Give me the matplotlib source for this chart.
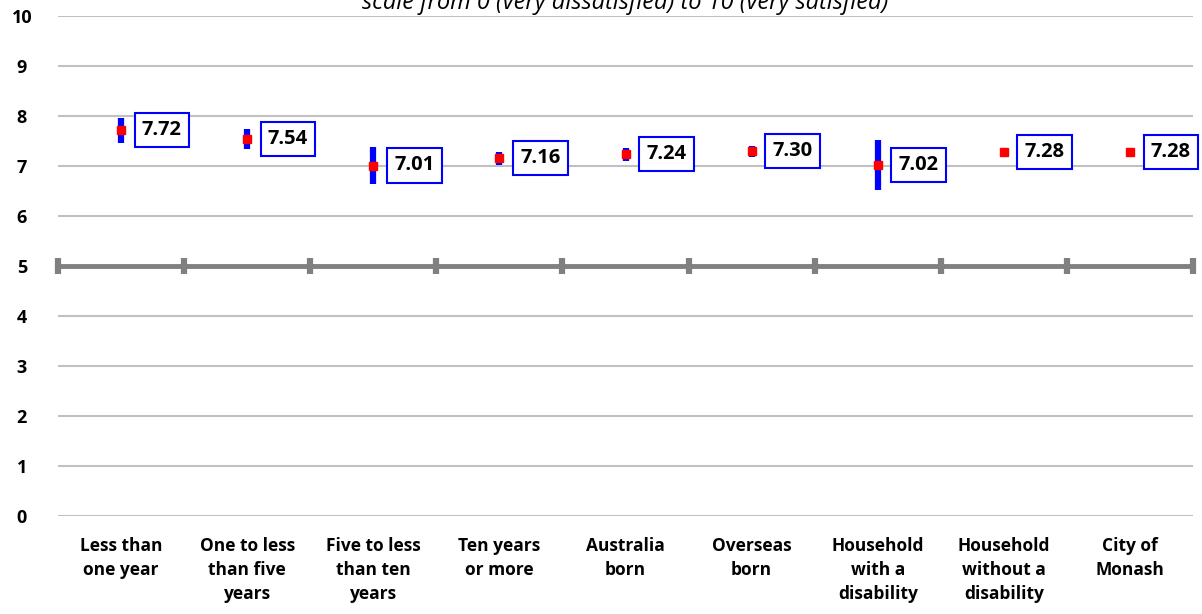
import numpy as np
import matplotlib.pyplot as plt

plt.rcParams['font.family'] = ['Open Sans', 'DejaVu Sans']

categories = ['Less than\none year', 'One to less\nthan five\nyears', 'Five to less\nthan ten\nyears',
              'Ten years\nor more', 'Australia\nborn', 'Overseas\nborn', 'Household\nwith a\ndisability',
              'Household\nwithout a\ndisability', 'City of\nMonash']
means = [7.72, 7.54, 7.01, 7.16, 7.24, 7.30, 7.02, 7.28, 7.28]
errors = [0.25, 0.20, 0.37, 0.13, 0.13, 0.11, 0.50, 0.05, 0.05]
labels = ['7.72', '7.54', '7.01', '7.16', '7.24', '7.30', '7.02', '7.28', '7.28']

fig = plt.figure(figsize=(12.02, 6.14), dpi=100)
ax = fig.add_axes([58/1202, 1-516/614, (1193-58)/1202, 500/614])

x = np.arange(len(categories))

# grid
for yv in range(0, 11):
    if yv == 5:
        continue
    ax.axhline(yv, color='#c0c0c0', lw=1.5, zorder=1)
ax.axhline(5, color='#808080', lw=3.5, zorder=2)
bounds = np.arange(len(categories) + 1) - 0.5
ax.plot(bounds, [5] * len(bounds), ls='none', marker='|', ms=12, mew=4.5, color='#808080',
        zorder=2, clip_on=False)

# error bars + means
ax.errorbar(x, means, yerr=errors, fmt='none', ecolor='#0000ff', elinewidth=4.5, capsize=0, zorder=3)
ax.plot(x, means, ls='none', marker='s', ms=6, color='#ff0000', zorder=4)

for xi, m, lab in zip(x, means, labels):
    ax.annotate(lab, (xi, m), xytext=(15, 0), textcoords='offset points', ha='left', va='center',
                fontsize=14.5, fontweight='bold',
                bbox=dict(boxstyle='square,pad=0.36', fc='white', ec='#0000ff', lw=1.5), zorder=5)

ax.set_xlim(-0.5, len(categories) - 0.5)
ax.set_ylim(0, 10)
ax.set_yticks(range(0, 11))
ax.set_yticklabels([str(v) for v in range(0, 11)], fontsize=13, fontweight='bold')
ax.set_xticks(x)
ax.set_xticklabels(categories, fontsize=12.5, fontweight='bold', va='top', linespacing=1.45)
ax.tick_params(axis='both', length=0)
ax.tick_params(axis='x', pad=15)
ax.tick_params(axis='y', pad=26)
for lab in ax.get_yticklabels():
    lab.set_ha('center')
for s in ax.spines.values():
    s.set_visible(False)

fig.text(0.52, 0.995, 'scale from 0 (very dissatisfied) to 10 (very satisfied)', ha='center', va='center',
         fontsize=17, style='italic')

fig.savefig('out.png', dpi=100)
